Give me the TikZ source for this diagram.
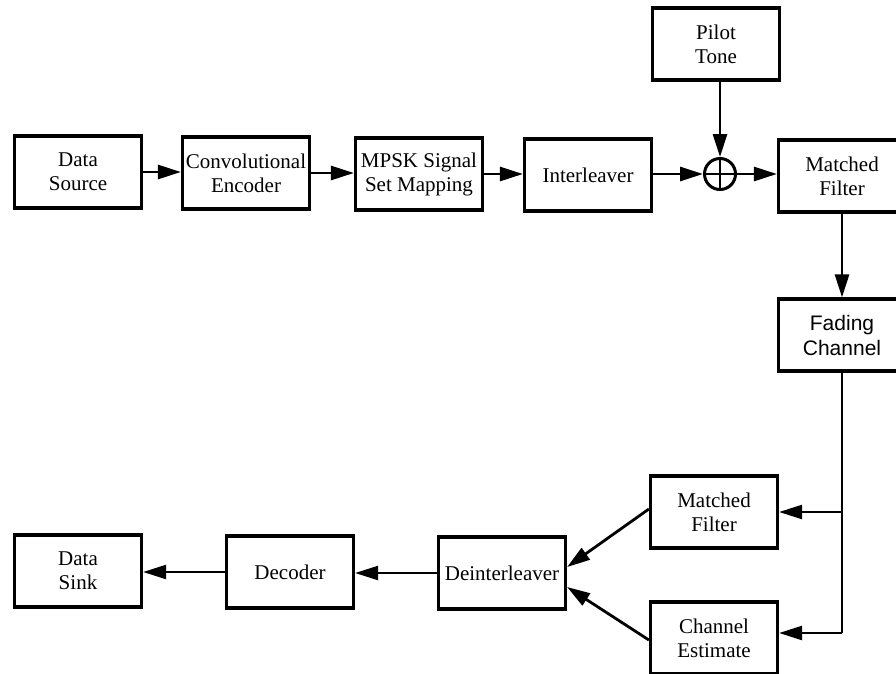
\documentclass[tikz,border=0pt]{standalone}
\usepackage{fontspec}
\setmainfont{Liberation Serif}
\newfontfamily\sansf{Liberation Sans}
\usetikzlibrary{arrows.meta,calc}
\tikzset{
  blk/.style={draw, line width=3.2pt, minimum width=127pt, minimum height=72pt,
    inner sep=0pt, align=center, font=\fontsize{21}{24}\selectfont},
  conn/.style={line width=2.8pt, -{Triangle[length=23pt,width=14pt]}},
  line/.style={line width=2.4pt},
}
\begin{document}
\begin{tikzpicture}[x=1pt,y=-1pt]
\clip (0,0) rectangle (896,674);
\fill[white] (0,0) rectangle (896,674);
% top row
\node[blk] (ds) at (78,172) {Data\\Source};
\node[blk] (ce) at (246,173) {Convolutional\\Encoder};
\node[blk] (mp) at (419,174) {MPSK Signal\\Set Mapping};
\node[blk] (il) at (588,175) {Interleaver};
\node[draw, circle, line width=3pt, minimum size=31pt, inner sep=0pt] (add) at (720,174) {};
\draw[line width=2.4pt] (add.north) -- (add.south) (add.west) -- (add.east);
\node[blk] (pt) at (716,44) {Pilot\\Tone};
\node[blk] (mf1) at (842,176) {Matched\\Filter};
\node[blk, font=\sansf\fontsize{21}{25}\selectfont] (fc) at (842,335) {Fading\\Channel};
% bottom
\node[blk] (mf2) at (714,512) {Matched\\Filter};
\node[blk] (chest) at (714,638) {Channel\\Estimate};
\node[blk] (di) at (502,573) {Deinterleaver};
\node[blk] (dec) at (290,572) {Decoder};
\node[blk] (dsk) at (78,571) {Data\\Sink};
% connectors top row
\draw[conn] (ds.east) -- (ds.east -| ce.west);
\draw[conn] (ce.east) -- (ce.east -| mp.west);
\draw[conn] (mp.east) -- (mp.east -| il.west);
\draw[conn] (il.west -| il.east) ++(0,-1) -- (add.west);
\draw[conn] (add.east) -- (add.east -| mf1.west);
\draw[conn] (pt.south -| add.north) -- (add.north);
\draw[conn] (mf1.south) -- (fc.north);
% channel branch
\coordinate (j1) at (fc.south |- mf2.east);
\coordinate (j2) at ($(fc.south |- chest.east)+(0,-5)$);
\draw[line] (fc.south) -- (j2);
\draw[conn, line width=2.4pt] (j1) -- (mf2.east);
\draw[conn, line width=2.4pt] (j2) -- (j2 -| chest.east);
% diagonals
\draw[conn] ($(mf2.west)+(0,-3)$) -- ($(di.east)+(0,-6)$);
\draw[conn] ($(chest.west)+(0,2)$) -- ($(di.east)+(0,14)$);
% bottom row
\draw[conn, line width=2.3pt] (di.west) -- (di.west -| dec.east);
\draw[conn, line width=2.3pt] (dec.west) -- (dec.west -| dsk.east);
\end{tikzpicture}
\end{document}
